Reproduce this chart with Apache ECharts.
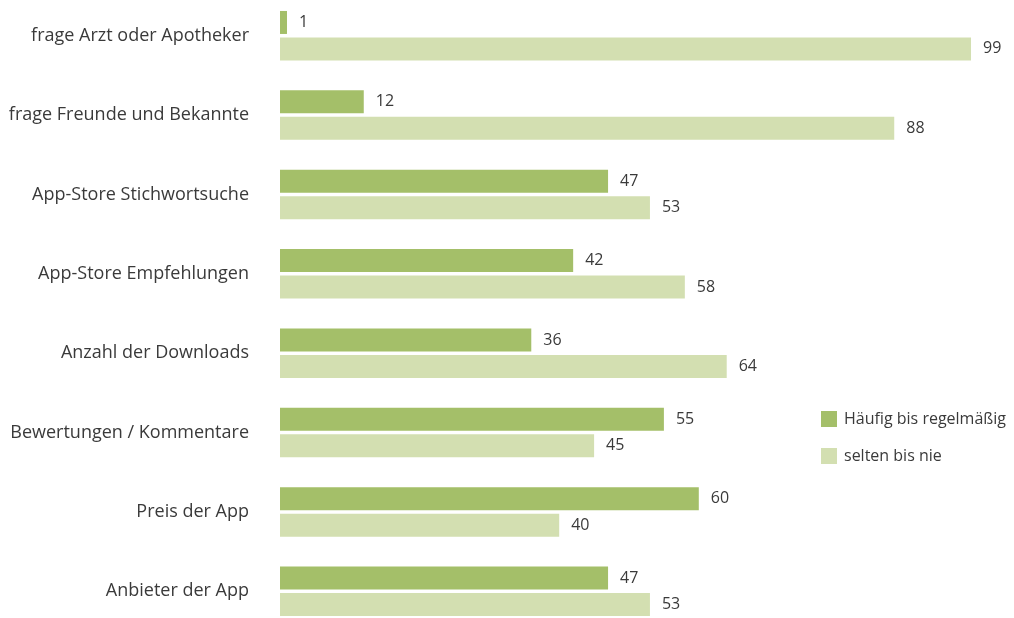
<!DOCTYPE html>
<html>
<head>
<meta charset="utf-8">
<script src="https://cdn.jsdelivr.net/npm/echarts@6/dist/echarts.min.js"></script>
<style>
  html, body { margin: 0; padding: 0; background: #ffffff; overflow: hidden; width: 1014px; height: 618px; }
  /* the plot runs slightly past the top and bottom edges of the page */
  #chart { position: absolute; left: 0; top: -4px; width: 1014px; height: 635px; }
</style>
</head>
<body>
<div id="chart"></div>
<script>
// Informationsquellen bei der App-Auswahl (Angaben in Prozent)
var categories = [
  'frage Arzt oder Apotheker',
  'frage Freunde und Bekannte',
  'App-Store Stichwortsuche',
  'App-Store Empfehlungen',
  'Anzahl der Downloads',
  'Bewertungen / Kommentare',
  'Preis der App',
  'Anbieter der App'
];
var seriesNames = ['Häufig bis regelmäßig', 'selten bis nie'];
var haeufig = [1, 12, 47, 42, 36, 55, 60, 47];
var selten = [99, 88, 53, 58, 64, 45, 40, 53];

var FONT = '"Open Sans", sans-serif';
var TEXT = '#3a3a3a';

var chart = echarts.init(document.getElementById('chart'), null, { renderer: 'canvas' });

var labelStyle = {
  show: true,
  position: 'right',
  distance: 12,
  color: TEXT,
  fontFamily: FONT,
  fontSize: 16
};

chart.setOption({
  animation: false,
  backgroundColor: '#ffffff',
  textStyle: { fontFamily: FONT },
  grid: { left: 280, top: 0, width: 698, height: 635, containLabel: false },
  legend: {
    orient: 'vertical',
    left: 821,
    top: 415,
    padding: 0,
    itemWidth: 16,
    itemHeight: 16,
    itemGap: 21,
    icon: 'rect',
    textStyle: { color: TEXT, fontFamily: FONT, fontSize: 16, padding: [0, 0, 0, 2] },
    data: seriesNames
  },
  xAxis: {
    type: 'value',
    min: 0,
    max: 100,
    show: false
  },
  yAxis: {
    type: 'category',
    inverse: true,
    data: categories,
    axisLine: { show: false },
    axisTick: { show: false },
    axisLabel: {
      color: TEXT,
      fontFamily: FONT,
      fontSize: 18,
      margin: 31
    }
  },
  series: [
    {
      name: seriesNames[0],
      type: 'bar',
      data: haeufig,
      barWidth: 23,
      barGap: '15%',
      itemStyle: { color: '#a4bf69' },
      label: labelStyle
    },
    {
      name: seriesNames[1],
      type: 'bar',
      data: selten,
      barWidth: 23,
      itemStyle: { color: '#d3dfb1' },
      label: labelStyle
    }
  ]
});
</script>
</body>
</html>
